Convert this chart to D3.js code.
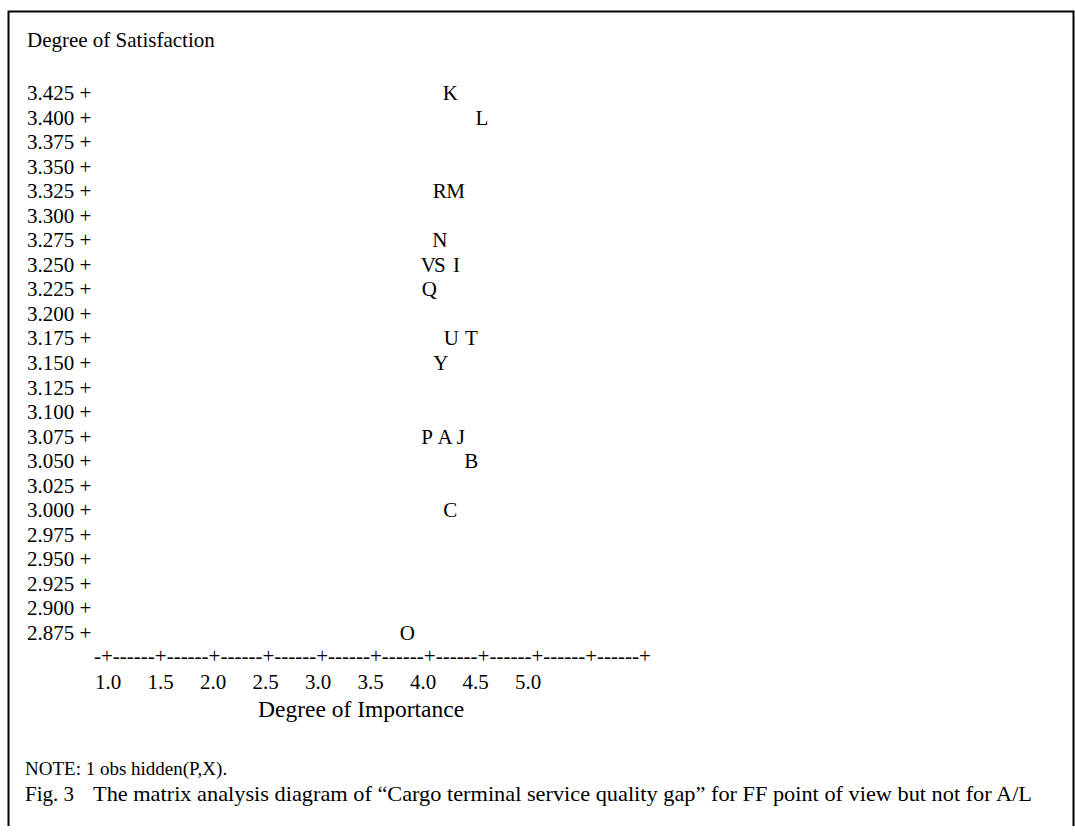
<!DOCTYPE html>
<html>
<head>
<meta charset="utf-8">
<script src="https://cdn.jsdelivr.net/npm/d3@7"></script>
<style>
  body { margin: 0; background: #fff; }
  text { font-family: "Liberation Serif", "Times New Roman", serif; fill: #000; }
</style>
</head>
<body>
<svg id="matrix-chart"></svg>
<script>
// Service attributes (letters) with their importance / satisfaction scores
const labels = ["K", "L", "R", "M", "N", "V", "S", "I", "Q", "U", "T", "Y", "P", "A", "J", "B", "C", "O"];
const importance = [4.26, 4.56, 4.16, 4.31, 4.16, 4.05, 4.16, 4.32, 4.06, 4.27, 4.46, 4.17, 4.04, 4.21, 4.36, 4.46, 4.26, 3.85];
const satisfaction = [3.425, 3.400, 3.325, 3.325, 3.275, 3.250, 3.250, 3.250, 3.225, 3.175, 3.175, 3.150, 3.075, 3.075, 3.075, 3.050, 3.000, 2.875];

// Axis tick labels
const yTickLabels = ["3.425", "3.400", "3.375", "3.350", "3.325", "3.300", "3.275", "3.250", "3.225", "3.200",
    "3.175", "3.150", "3.125", "3.100", "3.075", "3.050", "3.025", "3.000", "2.975", "2.950",
    "2.925", "2.900", "2.875"];
const xTickLabels = ["1.0", "1.5", "2.0", "2.5", "3.0", "3.5", "4.0", "4.5", "5.0"];
const xAxisSegments = 10;

const yTitle = "Degree of Satisfaction";
const xTitle = "Degree of Importance";
const note = "NOTE: 1 obs hidden(P,X).";
const figNo = "Fig. 3";
const caption = "The matrix analysis diagram of \u201cCargo terminal service quality gap\u201d for FF point of view but not for A/L";

const width = 1075;
const height = 833;
const fontSize = 21;

const svg = d3.select('#matrix-chart')
    .attr('width', width)
    .attr('height', height);

// Frame (left, top and right edges)
svg.append('path')
    .attr('d', 'M8.5,826 V11.5 H1073.5 V826')
    .attr('fill', 'none')
    .attr('stroke', '#000')
    .attr('stroke-width', 2);

// Scales (y gives the text baseline of each row)
const x = d3.scaleLinear()
    .domain([1, 5])
    .range([108, 528]);

const y = d3.scaleLinear()
    .domain([2.875, 3.425])
    .range([640, 100]);

// Title of vertical axis
svg.append('text')
    .attr('x', 27)
    .attr('y', 47)
    .style('font-size', fontSize + 'px')
    .text(yTitle);

// Vertical axis rows "3.425 +"
svg.selectAll('.ytick')
    .data(yTickLabels)
    .enter()
    .append('text')
    .attr('class', 'ytick')
    .attr('x', 27)
    .attr('y', d => y(+d))
    .style('font-size', fontSize + 'px')
    .text(d => d + ' +');

// Letters
svg.selectAll('.point')
    .data(labels.map((d, i) => ({ label: d, imp: importance[i], sat: satisfaction[i] })))
    .enter()
    .append('text')
    .attr('class', 'point')
    .attr('x', d => x(d.imp))
    .attr('y', d => y(d.sat))
    .style('font-size', fontSize + 'px')
    .style('text-anchor', 'middle')
    .text(d => d.label);

// Horizontal axis drawn as characters
const axisY = y(2.875) + 23;
svg.append('text')
    .attr('x', 94)
    .attr('y', axisY)
    .style('font-size', fontSize + 'px')
    .text('-' + '+------'.repeat(xAxisSegments) + '+');

svg.selectAll('.xtick')
    .data(xTickLabels)
    .enter()
    .append('text')
    .attr('class', 'xtick')
    .attr('x', d => x(+d))
    .attr('y', axisY + 26)
    .style('font-size', fontSize + 'px')
    .style('text-anchor', 'middle')
    .text(d => d);

svg.append('text')
    .attr('x', 258)
    .attr('y', axisY + 54)
    .style('font-size', '23.5px')
    .text(xTitle);

// Note and caption
svg.append('text')
    .attr('x', 25)
    .attr('y', 775)
    .style('font-size', '19px')
    .text(note);

svg.append('text')
    .attr('x', 25)
    .attr('y', 801)
    .style('font-size', '21px')
    .text(figNo);

svg.append('text')
    .attr('x', 93)
    .attr('y', 801)
    .attr('textLength', 939)
    .attr('lengthAdjust', 'spacingAndGlyphs')
    .style('font-size', '21.5px')
    .text(caption);
</script>
</body>
</html>
